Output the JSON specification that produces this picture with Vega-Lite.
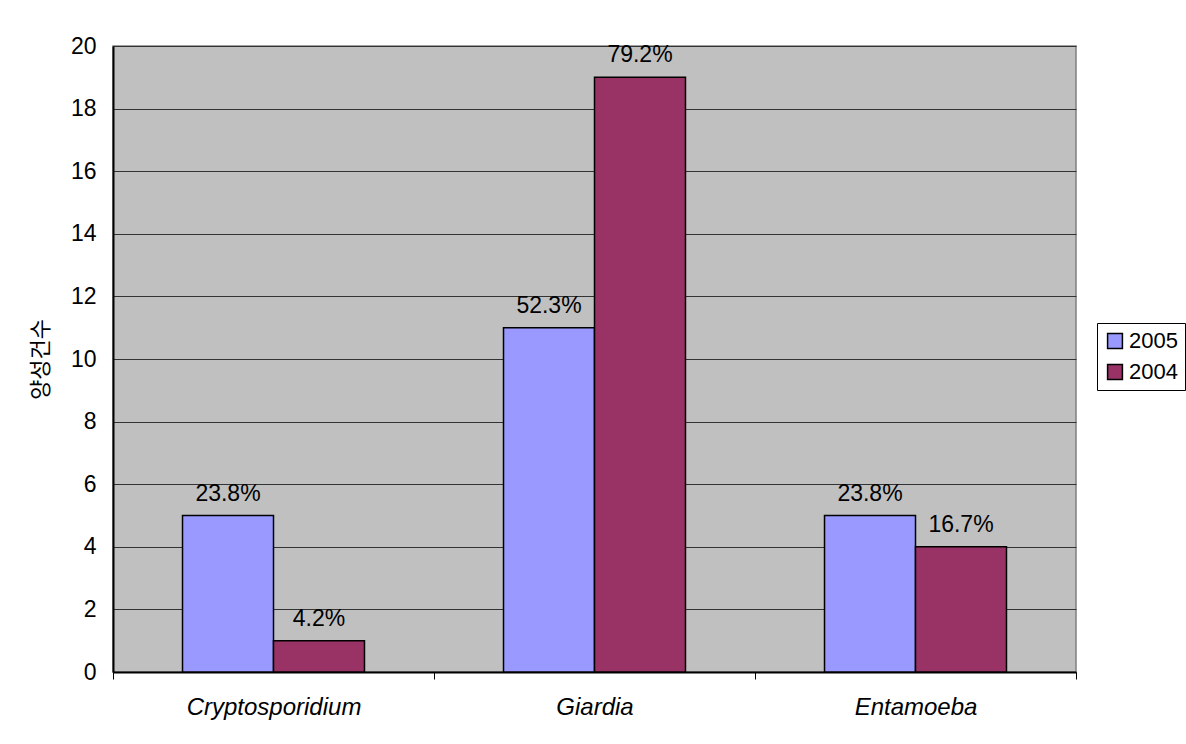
{
  "$schema": "https://vega.github.io/schema/vega-lite/v6.json",
  "width": 963,
  "height": 626,
  "autosize": {"type": "none"},
  "padding": {"left": 113, "top": 46, "right": 110, "bottom": 72},
  "background": "white",
  "data": {
    "values": [
      {"organism": "Cryptosporidium", "year": "2005", "count": 5, "pct": "23.8%"},
      {"organism": "Cryptosporidium", "year": "2004", "count": 1, "pct": "4.2%"},
      {"organism": "Giardia", "year": "2005", "count": 11, "pct": "52.3%"},
      {"organism": "Giardia", "year": "2004", "count": 19, "pct": "79.2%"},
      {"organism": "Entamoeba", "year": "2005", "count": 5, "pct": "23.8%"},
      {"organism": "Entamoeba", "year": "2004", "count": 4, "pct": "16.7%"}
    ]
  },
  "encoding": {
    "x": {
      "field": "organism",
      "type": "nominal",
      "sort": ["Cryptosporidium", "Giardia", "Entamoeba"],
      "scale": {"paddingInner": 0, "paddingOuter": 0},
      "axis": {
        "title": null,
        "labelAngle": 0,
        "labelFont": "Liberation Sans",
        "labelFontStyle": "italic",
        "labelFontSize": 24,
        "labelColor": "#000",
        "labelPadding": 16,
        "tickBand": "extent",
        "tickColor": "#000",
        "tickSize": 7,
        "domainColor": "#000",
        "domainWidth": 2,
        "grid": false
      }
    },
    "xOffset": {
      "field": "year",
      "type": "nominal",
      "sort": ["2005", "2004"],
      "scale": {"paddingOuter": 0.764, "paddingInner": 0}
    },
    "y": {
      "field": "count",
      "type": "quantitative",
      "scale": {"domain": [0, 20], "nice": false},
      "axis": {
        "title": "양성건수",
        "titleFont": "Noto Sans CJK KR",
        "titleFontSize": 22,
        "titleFontWeight": "normal",
        "titleColor": "#000",
        "titlePadding": 18,
        "values": [0, 2, 4, 6, 8, 10, 12, 14, 16, 18, 20],
        "labelFont": "Liberation Sans",
        "labelFontSize": 23,
        "labelColor": "#000",
        "labelPadding": 17,
        "ticks": false,
        "domainColor": "#000",
        "domainWidth": 2,
        "grid": true,
        "gridColor": "#333",
        "gridWidth": 1.2,
        "gridOpacity": 1
      }
    }
  },
  "layer": [
    {
      "mark": {"type": "bar", "stroke": "#000", "strokeWidth": 1.5},
      "encoding": {
        "color": {
          "field": "year",
          "type": "nominal",
          "sort": ["2005", "2004"],
          "scale": {"domain": ["2005", "2004"], "range": ["#9999FF", "#993366"]},
          "legend": {
            "title": null,
            "orient": "none",
            "legendX": 984,
            "legendY": 277,
            "symbolType": "square",
            "symbolSize": 220,
            "symbolStrokeColor": "#000",
            "symbolStrokeWidth": 1.5,
            "symbolOpacity": 1,
            "labelFont": "Liberation Sans",
            "labelFontSize": 22,
            "labelColor": "#000",
            "labelOffset": 3,
            "rowPadding": 9,
            "strokeColor": "#000",
            "padding": 7,
            "fillColor": "white"
          }
        }
      }
    },
    {
      "mark": {
        "type": "text",
        "baseline": "bottom",
        "dy": -10,
        "font": "Liberation Sans",
        "fontSize": 23,
        "color": "#000"
      },
      "encoding": {"text": {"field": "pct"}}
    }
  ],
  "config": {
    "view": {"fill": "#C0C0C0", "stroke": "#808080", "strokeWidth": 1.5}
  }
}
